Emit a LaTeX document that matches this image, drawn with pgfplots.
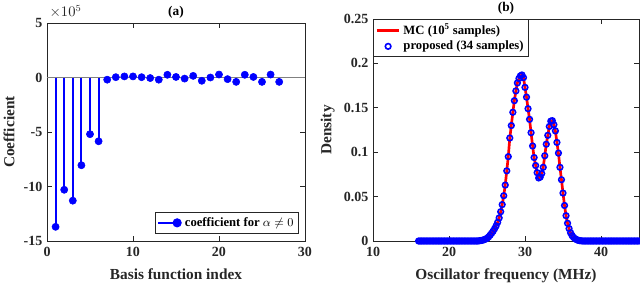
\documentclass[border=0pt]{standalone}
\usepackage{pgfplots}
\pgfplotsset{compat=1.18}
\usepackage{fontspec}
\setmainfont{Liberation Serif}
\definecolor{axgray}{RGB}{38,38,38}
\definecolor{mblue}{RGB}{0,0,255}
\definecolor{mred}{RGB}{255,0,0}
\pgfplotsset{
  mstyle/.style={
    scale only axis,
    axis line style={axgray, line width=0.6pt},
    tick style={axgray, line width=0.6pt},
    tick align=inside,
    major tick length=4pt,
    xtick pos=both, ytick pos=both,
    tick label style={font=\fontsize{10.5}{12}\selectfont\bfseries, text=axgray},
    xticklabel style={yshift=-1pt},
    label style={font=\fontsize{11.5}{13}\selectfont\bfseries, text=axgray},
    xlabel style={yshift=-2.5pt},
    title style={font=\fontsize{10}{12}\selectfont\bfseries, text=black, yshift=-6pt},
    /pgf/number format/assume math mode=true,
    legend style={font=\fontsize{9.5}{11}\selectfont\bfseries, draw=axgray, line width=0.6pt, fill=white, inner sep=1.5pt, row sep=-1pt},
    legend cell align=left,
  }
}
\begin{document}
\begin{tikzpicture}
% ---------- (a) ----------
\begin{axis}[mstyle,
  at={(35.25pt,36.75pt)}, anchor=south west,
  width=193.5pt, height=163.5pt,
  xmin=0, xmax=30, ymin=-15, ymax=5,
  xtick={0,10,20,30}, ytick={-15,-10,-5,0,5},
  yticklabels={-15,-10,-5,0,5},
  xlabel={Basis function index}, ylabel={Coefficient},
  title={(a)},
  legend style={at={(0.975,0.035)}, anchor=south east},
  legend image code/.code={
    \draw[mblue, line width=1.6pt] (0pt,0pt) -- (17pt,0pt);
    \fill[mblue] (14pt,0pt) circle (2.6pt);
  },
]
\addplot[gray, line width=0.8pt, forget plot] coordinates {(0,0) (30,0)};
\addplot[ycomb, mblue, line width=1.6pt, mark=*, mark size=2.7pt, mark options={fill=mblue, draw=mblue, line width=0.4pt}] coordinates {
(1,-13.7) (2,-10.3) (3,-11.3) (4,-8.05) (5,-5.2) (6,-5.85)
(7,-0.2) (8,0.03) (9,0.1) (10,0.1) (11,0.03) (12,-0.05) (13,-0.2)
(14,0.25) (15,0.05) (16,-0.1) (17,0.15) (18,-0.3) (19,0.0) (20,0.27)
(21,-0.15) (22,-0.4) (23,0.25) (24,0.05) (25,-0.4) (26,0.27) (27,-0.4)
};
\addlegendentry{coefficient for $\alpha\neq0$}
\end{axis}
\node[anchor=south west, font=\fontsize{10.5}{12}\selectfont, text=axgray, inner sep=0pt] at (37pt,204pt) {$\times 10^{5}$};
% ---------- (b) ----------
\begin{axis}[mstyle,
  at={(279.75pt,36.75pt)}, anchor=south west,
  width=199.5pt, height=166.5pt,
  xmin=10, xmax=45, ymin=0, ymax=0.25,
  xtick={10,20,30,40}, ytick={0,0.05,0.1,0.15,0.2,0.25},
  yticklabels={0,0.05,0.1,0.15,0.2,0.25},
  xlabel={Oscillator frequency (MHz)}, ylabel={Density},
  title={(b)},
  legend style={at={(0,1)}, anchor=north west},
]
\addplot[mred, line width=2pt] coordinates {
(16.0,0) (17.0,0) (18.0,0) (19.0,0) (20.0,0) (21.0,0) (22.0,0) (23.0,0) (23.8,0)
(24.0,0.0003) (24.2,0.0005) (24.4,0.0009) (24.6,0.0014) (24.8,0.0021)
(25.0,0.0030) (25.2,0.0045) (25.4,0.0065) (25.6,0.0087) (25.8,0.0110)
(26.0,0.0138) (26.2,0.0170) (26.4,0.0210) (26.6,0.0260) (26.8,0.0330)
(27.0,0.0410) (27.2,0.0510) (27.4,0.0630) (27.6,0.0790) (27.8,0.0950)
(28.0,0.1160) (28.2,0.1300) (28.4,0.1450) (28.6,0.1580) (28.8,0.1690)
(29.0,0.1780) (29.2,0.1830) (29.4,0.1860) (29.6,0.1870) (29.8,0.1840)
(30.0,0.1730) (30.2,0.1620) (30.4,0.1490) (30.6,0.1370) (30.8,0.1220)
(31.0,0.1070) (31.2,0.0940) (31.4,0.0850) (31.6,0.0770) (31.8,0.0710)
(32.0,0.0720) (32.2,0.0760) (32.4,0.0830) (32.6,0.0960) (32.8,0.1090)
(33.0,0.1190) (33.2,0.1290) (33.4,0.1350) (33.6,0.1355) (33.8,0.1310)
(34.0,0.1240) (34.2,0.1110) (34.4,0.0990) (34.6,0.0830) (34.8,0.0690)
(35.0,0.0540) (35.2,0.0400) (35.4,0.0285) (35.6,0.0200) (35.8,0.0140)
(36.0,0.0092) (36.2,0.0060) (36.4,0.0040) (36.6,0.0025) (36.8,0.0015)
(37.0,0.0008) (37.2,0.0004) (37.4,0.0002) (38.0,0) (40.0,0) (42.0,0) (45.0,0)
};
\addlegendentry{MC (10\textsuperscript{5} samples)}
\addplot[only marks, mark=o, mark size=2.1pt, mark options={draw=mblue, line width=1.2pt}] coordinates {
(16.0,0) (16.2,0) (16.4,0) (16.6,0) (16.8,0) (17.0,0) (17.2,0) (17.4,0) (17.6,0) (17.8,0)
(18.0,0) (18.2,0) (18.4,0) (18.6,0) (18.8,0) (19.0,0) (19.2,0) (19.4,0) (19.6,0) (19.8,0)
(20.0,0) (20.2,0) (20.4,0) (20.6,0) (20.8,0) (21.0,0) (21.2,0) (21.4,0) (21.6,0) (21.8,0)
(22.0,0) (22.2,0) (22.4,0) (22.6,0) (22.8,0) (23.0,0) (23.2,0) (23.4,0) (23.6,0) (23.8,0)
(24.0,0.0003) (24.2,0.0005) (24.4,0.0009) (24.6,0.0014) (24.8,0.0021)
(25.0,0.0030) (25.2,0.0045) (25.4,0.0065) (25.6,0.0087) (25.8,0.0110)
(26.0,0.0138) (26.2,0.0170) (26.4,0.0210) (26.6,0.0260) (26.8,0.0330)
(27.0,0.0410) (27.2,0.0510) (27.4,0.0630) (27.6,0.0790) (27.8,0.0950)
(28.0,0.1160) (28.2,0.1300) (28.4,0.1450) (28.6,0.1580) (28.8,0.1690)
(29.0,0.1780) (29.2,0.1830) (29.4,0.1860) (29.6,0.1870) (29.8,0.1840)
(30.0,0.1730) (30.2,0.1620) (30.4,0.1490) (30.6,0.1370) (30.8,0.1220)
(31.0,0.1070) (31.2,0.0940) (31.4,0.0850) (31.6,0.0770) (31.8,0.0710)
(32.0,0.0720) (32.2,0.0760) (32.4,0.0830) (32.6,0.0960) (32.8,0.1090)
(33.0,0.1190) (33.2,0.1290) (33.4,0.1350) (33.6,0.1355) (33.8,0.1310)
(34.0,0.1240) (34.2,0.1110) (34.4,0.0990) (34.6,0.0830) (34.8,0.0690)
(35.0,0.0540) (35.2,0.0400) (35.4,0.0285) (35.6,0.0200) (35.8,0.0140)
(36.0,0.0092) (36.2,0.0060) (36.4,0.0040) (36.6,0.0025) (36.8,0.0015)
(37.0,0.0008) (37.2,0.0004) (37.4,0.0002) (37.6,0) (37.8,0)
(38.0,0) (38.2,0) (38.4,0) (38.6,0) (38.8,0) (39.0,0) (39.2,0) (39.4,0) (39.6,0) (39.8,0)
(40.0,0) (40.2,0) (40.4,0) (40.6,0) (40.8,0) (41.0,0) (41.2,0) (41.4,0) (41.6,0) (41.8,0)
(42.0,0) (42.2,0) (42.4,0) (42.6,0) (42.8,0) (43.0,0) (43.2,0) (43.4,0) (43.6,0) (43.8,0)
(44.0,0) (44.2,0) (44.4,0) (44.6,0) (44.8,0) (45.0,0)
};
\addlegendentry{proposed (34 samples)}
\end{axis}
\pgfresetboundingbox
\useasboundingbox (0,0) rectangle (480pt,217.5pt);
\end{tikzpicture}
\end{document}
